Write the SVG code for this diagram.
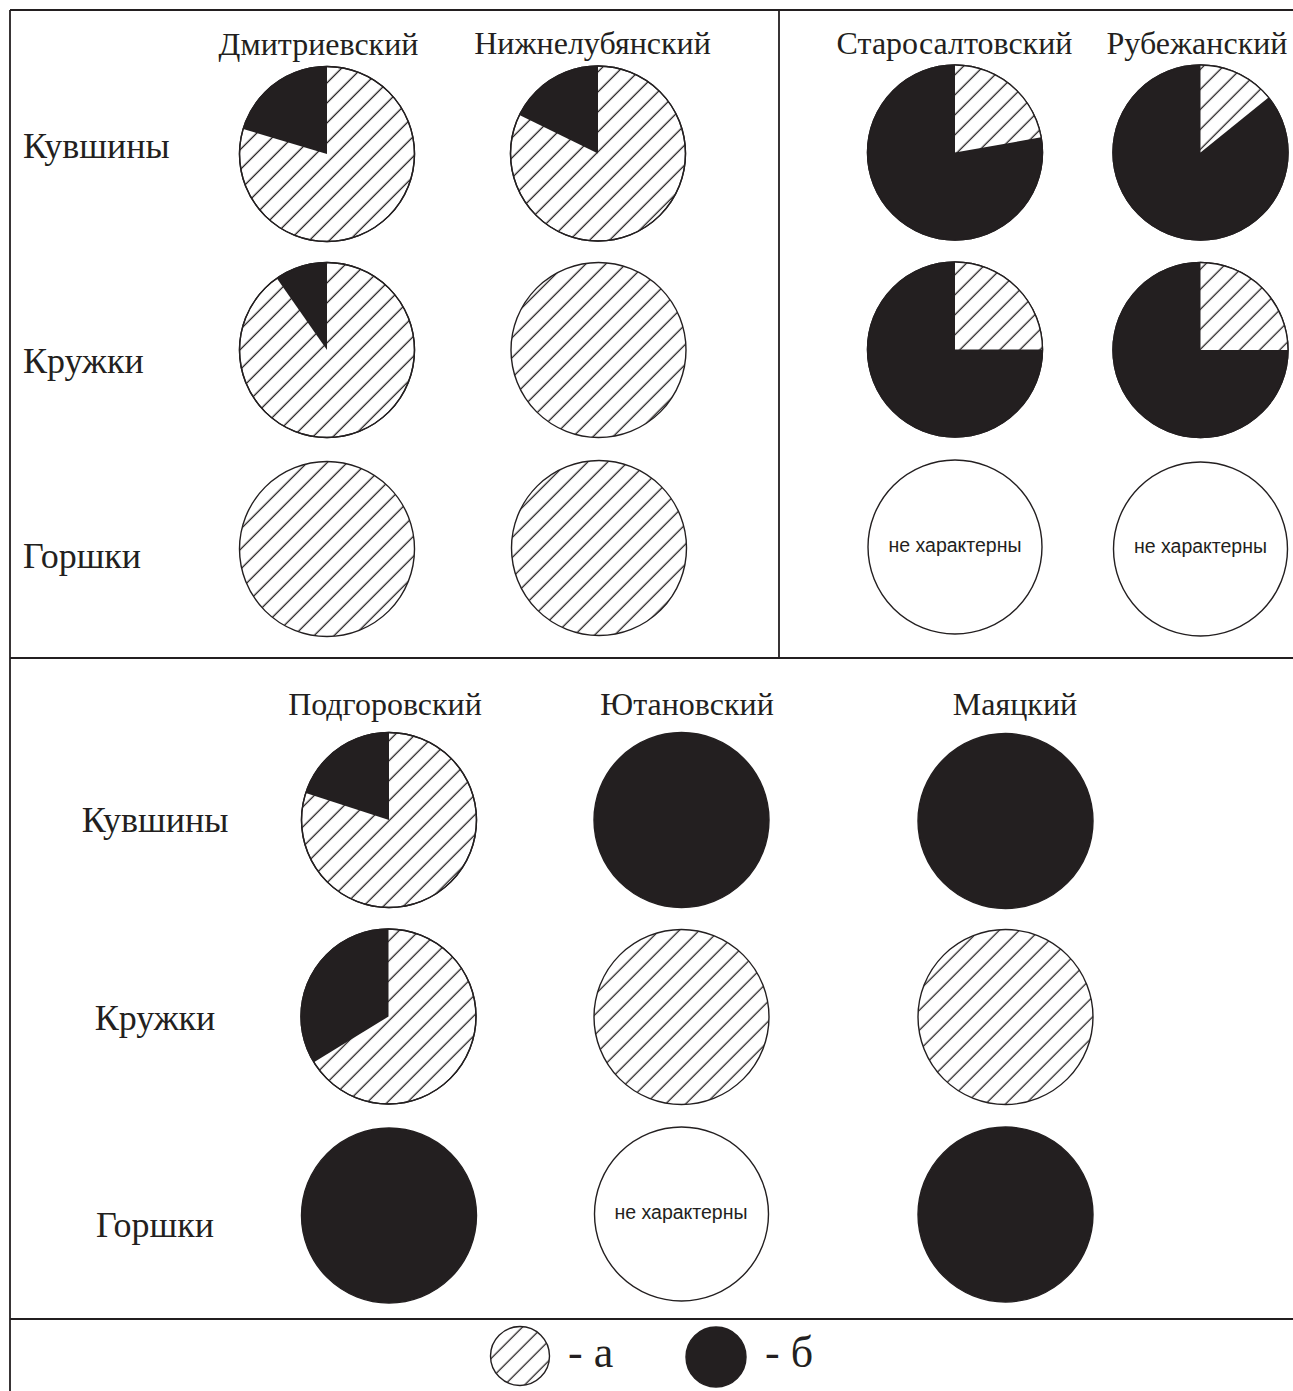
<svg xmlns="http://www.w3.org/2000/svg" width="1293" height="1391" viewBox="0 0 1293 1391">
<style>
.bg{fill:#ffffff}
.frame{stroke:#231f20;stroke-width:1.8;fill:none}
.ttl{font-family:"Liberation Serif","Times New Roman",serif;font-size:32px;fill:#231f20}
.row{font-family:"Liberation Serif","Times New Roman",serif;font-size:36px;fill:#231f20}
.leg{font-family:"Liberation Serif","Times New Roman",serif;font-size:44px;fill:#231f20}
.nc{font-family:"Liberation Sans",Arial,sans-serif;font-size:19.5px;fill:#231f20;text-anchor:middle}
.h{fill:url(#hatch);stroke:#231f20;stroke-width:1.4}
.b{fill:#231f20;stroke:#231f20;stroke-width:1.4}
.w{fill:#ffffff;stroke:#231f20;stroke-width:1.4}
.bs{fill:#231f20;stroke:none}
.hs{fill:url(#hatch);stroke:none}
.o{fill:none;stroke:#231f20;stroke-width:1.4}
</style>
<defs>
<pattern id="hatch" patternUnits="userSpaceOnUse" width="14.14" height="14.14" patternTransform="rotate(-45)">
<rect width="14.14" height="14.14" fill="#ffffff"/>
<line x1="-1" y1="7" x2="15.14" y2="7" stroke="#231f20" stroke-width="1.3"/>
</pattern>
</defs>
<rect class="bg" x="0" y="0" width="1293" height="1391"/>
<g id="frame" class="frame">
<line x1="10" y1="10" x2="1293" y2="10"/>
<line x1="10" y1="10" x2="10" y2="1391"/>
<line x1="779" y1="10" x2="779" y2="658"/>
<line x1="10" y1="658" x2="1293" y2="658"/>
<line x1="10" y1="1319" x2="1293" y2="1319"/>
</g>
<g id="titles">
<text class="ttl" x="318.5" y="55" text-anchor="middle">Дмитриевский</text>
<text class="ttl" x="592.5" y="54" text-anchor="middle">Нижнелубянский</text>
<text class="ttl" x="954.5" y="54" text-anchor="middle">Старосалтовский</text>
<text class="ttl" x="1197" y="54" text-anchor="middle">Рубежанский</text>
<text class="ttl" x="385" y="715" text-anchor="middle">Подгоровский</text>
<text class="ttl" x="687" y="715" text-anchor="middle">Ютановский</text>
<text class="ttl" x="1015" y="715" text-anchor="middle">Маяцкий</text>
</g>
<g id="row-labels">
<text class="row" x="23" y="158">Кувшины</text>
<text class="row" x="23" y="373">Кружки</text>
<text class="row" x="23" y="568">Горшки</text>
<text class="row" x="155" y="832" text-anchor="middle">Кувшины</text>
<text class="row" x="155" y="1030" text-anchor="middle">Кружки</text>
<text class="row" x="155" y="1237" text-anchor="middle">Горшки</text>
</g>
<g id="dm-kuv">
<circle class="h" cx="327" cy="154" r="87.5"/>
<path class="bs" d="M327,154 L327,66.5 A87.5,87.5 0 0 0 243.2,129 Z"/>
<circle class="o" cx="327" cy="154" r="87.5"/>
</g>
<g id="nl-kuv">
<circle class="h" cx="598" cy="153.5" r="87.5"/>
<path class="bs" d="M598,153.5 L598,66 A87.5,87.5 0 0 0 519.4,115.1 Z"/>
<circle class="o" cx="598" cy="153.5" r="87.5"/>
</g>
<g id="dm-kru">
<circle class="h" cx="327" cy="350" r="87.5"/>
<path class="bs" d="M327,350 L327,262.5 A87.5,87.5 0 0 0 276.8,278.3 Z"/>
<circle class="o" cx="327" cy="350" r="87.5"/>
</g>
<g id="nl-kru">
<circle class="h" cx="598.5" cy="350" r="87.5"/>
</g>
<g id="dm-gor">
<circle class="h" cx="327" cy="549" r="87.5"/>
</g>
<g id="nl-gor">
<circle class="h" cx="599" cy="548" r="87.5"/>
</g>
<g id="ss-kuv">
<circle class="b" cx="955" cy="152.5" r="87.5"/>
<path class="hs" d="M955,152.5 L955,65 A87.5,87.5 0 0 1 1041.2,137.3 Z"/>
<circle class="o" cx="955" cy="152.5" r="87.5"/>
</g>
<g id="rb-kuv">
<circle class="b" cx="1200.5" cy="152.5" r="87.5"/>
<path class="hs" d="M1200.5,152.5 L1200.5,65 A87.5,87.5 0 0 1 1268.5,97.4 Z"/>
<circle class="o" cx="1200.5" cy="152.5" r="87.5"/>
</g>
<g id="ss-kru">
<circle class="b" cx="955" cy="349.5" r="87.5"/>
<path class="hs" d="M955,349.5 L955,262 A87.5,87.5 0 0 1 1042.5,349.5 Z"/>
<circle class="o" cx="955" cy="349.5" r="87.5"/>
</g>
<g id="rb-kru">
<circle class="b" cx="1200.5" cy="350" r="87.5"/>
<path class="hs" d="M1200.5,350 L1200.5,262.5 A87.5,87.5 0 0 1 1288,350 Z"/>
<circle class="o" cx="1200.5" cy="350" r="87.5"/>
</g>
<g id="ss-gor">
<circle class="w" cx="955" cy="547" r="87"/>
<text class="nc" x="955" y="552">не характерны</text>
</g>
<g id="rb-gor">
<circle class="w" cx="1200.5" cy="549" r="87"/>
<text class="nc" x="1200.5" y="553">не характерны</text>
</g>
<g id="pg-kuv">
<circle class="h" cx="389" cy="820" r="87.5"/>
<path class="bs" d="M389,820 L389,732.5 A87.5,87.5 0 0 0 305.8,793 Z"/>
<circle class="o" cx="389" cy="820" r="87.5"/>
</g>
<g id="yu-kuv">
<circle class="b" cx="681.5" cy="820" r="87.5"/>
</g>
<g id="ma-kuv">
<circle class="b" cx="1005.5" cy="821" r="87.5"/>
</g>
<g id="pg-kru">
<circle class="h" cx="388.5" cy="1016.5" r="87.5"/>
<path class="bs" d="M388.5,1016.5 L388.5,929 A87.5,87.5 0 0 0 313.9,1062.2 Z"/>
<circle class="o" cx="388.5" cy="1016.5" r="87.5"/>
</g>
<g id="yu-kru">
<circle class="h" cx="681.5" cy="1017" r="87.5"/>
</g>
<g id="ma-kru">
<circle class="h" cx="1005.5" cy="1017" r="87.5"/>
</g>
<g id="pg-gor">
<circle class="b" cx="389" cy="1215.5" r="87.5"/>
</g>
<g id="yu-gor">
<circle class="w" cx="681.5" cy="1214" r="87"/>
<text class="nc" x="681" y="1219">не характерны</text>
</g>
<g id="ma-gor">
<circle class="b" cx="1005.5" cy="1214.5" r="87.5"/>
</g>
<g id="legend">
<circle class="h" cx="520" cy="1356" r="29.5"/>
<text class="leg" x="568" y="1367">- а</text>
<circle class="b" cx="716" cy="1357" r="30"/>
<text class="leg" x="765" y="1367">- б</text>
</g>
</svg>
